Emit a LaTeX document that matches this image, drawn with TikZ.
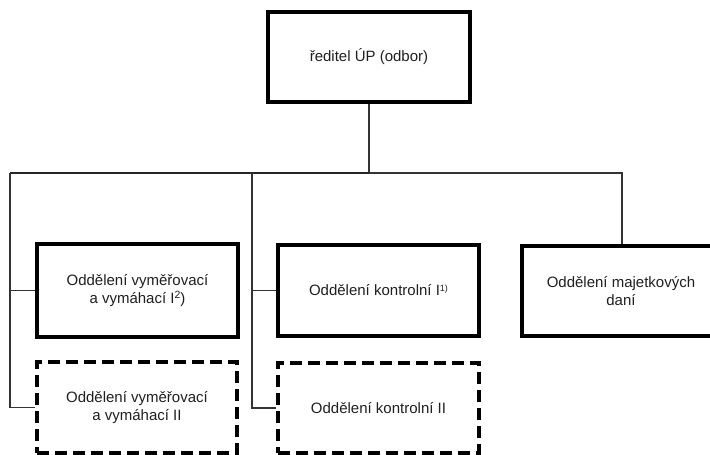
\documentclass[tikz,border=0pt]{standalone}
\usepackage{fontspec}
\setmainfont{Liberation Sans}
\begin{document}
\begin{tikzpicture}[x=1pt,y=-1pt,
  every node/.style={font=\fontsize{15}{18}\selectfont, text=black!88, align=center, inner sep=0pt},
  unit/.style={draw=black, line width=3.6pt, line join=miter},
  planned/.style={draw=black, line width=3.6pt, dash pattern=on 12pt off 6pt},
  conn/.style={draw=black!80, line width=1.1pt},
  trunk/.style={draw=black!85, line width=1.7pt}]
\useasboundingbox (0,0) rectangle (710,455);

% director
\node[unit, minimum width=202pt, minimum height=90pt] (top) at (369,57) {ředitel ÚP (odbor)};

% departments
\node[unit, minimum width=201pt, minimum height=93pt] (box1) at (137.5,290.5)
  {Oddělení vyměřovací\\a vymáhací I\raisebox{4.5pt}{\fontsize{10.5}{10.5}\selectfont 2})};
\node[unit, minimum width=201pt, minimum height=91pt] (box2) at (378.5,290.5)
  {Oddělení kontrolní I\raisebox{4.5pt}{\fontsize{9}{9}\selectfont 1)}};
\node[unit, minimum width=198pt, minimum height=90pt] (box3) at (621,291)
  {Oddělení majetkových\\daní};

% planned departments
\node[planned, minimum width=200pt, minimum height=91pt] (dash1) at (137,407.5)
  {Oddělení vyměřovací\\a vymáhací II};
\node[planned, minimum width=201pt, minimum height=90pt] (dash2) at (378.5,408)
  {Oddělení kontrolní II};

% connector skeleton
\coordinate (hub) at (369,173);
\coordinate (lcorner) at (10,173);
\coordinate (mtop) at (252,173);
\coordinate (rtop) at (622,173);

\draw[conn] (top.south) -- (hub);
\draw[trunk] (lcorner) -- (hub);
\draw[conn] (hub) -- (rtop) -- (rtop |- box3.north);
\draw[conn] (lcorner) |- (box1.west);
\draw[conn] (lcorner) |- (dash1.west);
\draw[conn] (mtop) |- (box2.west);
\draw[conn] (mtop) |- (dash2.west);
\end{tikzpicture}
\end{document}
